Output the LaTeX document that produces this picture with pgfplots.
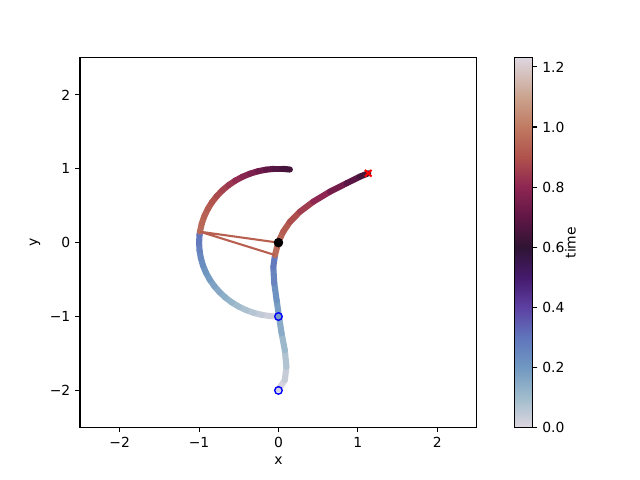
\documentclass[border=0pt]{standalone}
\usepackage{pgfplots}
\pgfplotsset{compat=1.18}
\usepackage{fontspec}
\setmainfont{DejaVu Sans}
\definecolor{rod}{RGB}{184,96,80}
\pgfplotsset{
  colormap={twilight}{
    rgb255(0pt)=(221,214,223)
    rgb255(10pt)=(160,188,204)
    rgb255(20pt)=(112,152,193)
    rgb255(30pt)=(96,117,188)
    rgb255(40pt)=(93,64,162)
    rgb255(50pt)=(69,26,108)
    rgb255(60pt)=(47,20,52)
    rgb255(70pt)=(96,22,70)
    rgb255(80pt)=(142,38,82)
    rgb255(90pt)=(176,82,76)
    rgb255(100pt)=(192,122,98)
    rgb255(110pt)=(203,163,142)
    rgb255(123pt)=(221,214,223)
  }
}
\begin{document}
\begin{tikzpicture}
\path[use as bounding box] (0,0) rectangle (460.8pt,345.6pt);
\begin{axis}[
  at={(57.6pt,37.9pt)}, anchor=south west,
  scale only axis, width=285.8pt, height=266pt,
  xmin=-2.5, xmax=2.5, ymin=-2.5, ymax=2.5,
  xtick={-2,-1,0,1,2}, xticklabels={−2,−1,0,1,2},
  ytick={-2,-1,0,1,2}, yticklabels={−2,−1,0,1,2},
  tick align=outside, xtick pos=left, ytick pos=left,
  major tick length=3.5pt,
  every tick/.style={black, line width=0.8pt},
  axis line style={line width=0.8pt},
  xlabel={x}, ylabel={y},
  colormap name=twilight,
  point meta min=0, point meta max=1.23,
  colorbar,
  colorbar/width=13pt,
  colorbar style={
    at={(parent axis.north east)}, anchor=north west, xshift=18.5pt,
    ytick={0,0.2,0.4,0.6,0.8,1.0,1.2},
    yticklabels={0.0,0.2,0.4,0.6,0.8,1.0,1.2},
    tick align=outside, ytick pos=right, yticklabel pos=right,
    major tick length=3.5pt,
    every tick/.style={black, line width=0.8pt},
    axis line style={line width=0.8pt},
    ylabel={time},
    ylabel style={at={(axis description cs:3.1,0.5)}, anchor=center},
  },
]
% mass 1, first phase
\addplot[mesh, point meta=explicit, line width=4.4pt, line cap=round, line join=round] table[meta=c] {
x y c
0 -1 0
-0.1045 -0.9945 0.018
-0.2079 -0.9781 0.037
-0.3090 -0.9511 0.055
-0.4067 -0.9135 0.073
-0.5 -0.8660 0.091
-0.5878 -0.8090 0.110
-0.6691 -0.7431 0.128
-0.7431 -0.6691 0.146
-0.8090 -0.5878 0.164
-0.8660 -0.5 0.183
-0.9135 -0.4067 0.201
-0.9511 -0.3090 0.219
-0.9781 -0.2079 0.238
-0.9945 -0.1045 0.256
-1 0 0.274
-0.9945 0.1045 0.292
-0.9890 0.1478 0.300
};
% mass 2, first phase
\addplot[mesh, point meta=explicit, line width=4.4pt, line cap=round, line join=round] table[meta=c] {
x y c
0 -1.99 0
0.08 -1.86 0.025
0.10 -1.68 0.054
0.08 -1.455 0.090
0.04 -1.23 0.127
0.006 -1.0 0.165
-0.023 -0.78 0.201
-0.053 -0.55 0.238
-0.065 -0.33 0.274
-0.044 -0.168 0.300
};
% mass 1, second phase
\addplot[mesh, point meta=explicit, line width=4.4pt, line cap=round, line join=round] table[meta=c] {
x y c
-0.9890 0.1478 0.970
-0.9659 0.2588 0.961
-0.9336 0.3584 0.949
-0.8910 0.4540 0.933
-0.8387 0.5446 0.915
-0.7771 0.6293 0.895
-0.7071 0.7071 0.874
-0.6293 0.7771 0.851
-0.5446 0.8387 0.827
-0.4540 0.8910 0.801
-0.3584 0.9336 0.774
-0.2588 0.9659 0.747
-0.1564 0.9877 0.718
-0.0523 0.9986 0.688
0.0523 0.9986 0.658
0.1444 0.9895 0.630
};
% mass 2, second phase
\addplot[mesh, point meta=explicit, line width=4.4pt, line cap=round, line join=round] table[meta=c] {
x y c
-0.044 -0.168 0.970
0.0 0.012 0.955
0.06 0.148 0.935
0.145 0.283 0.909
0.271 0.419 0.875
0.438 0.554 0.830
0.649 0.690 0.773
0.859 0.804 0.712
1.026 0.893 0.662
1.131 0.939 0.630
};
% rods
\addplot[color=rod, line width=1.5pt] coordinates {(0,0) (-0.989,0.148) (-0.044,-0.168)};
% initial positions
\addplot[only marks, mark=o, mark size=2.7pt, blue, mark options={line width=1pt}] coordinates {(0,-1) (0,-2)};
% pivot
\addplot[only marks, mark=*, mark size=3.2pt, black] coordinates {(0,0)};
% final position
\addplot[only marks, mark=x, mark size=3.4pt, red, mark options={line width=1.4pt}] coordinates {(1.131,0.939)};
\end{axis}
\end{tikzpicture}
\end{document}
